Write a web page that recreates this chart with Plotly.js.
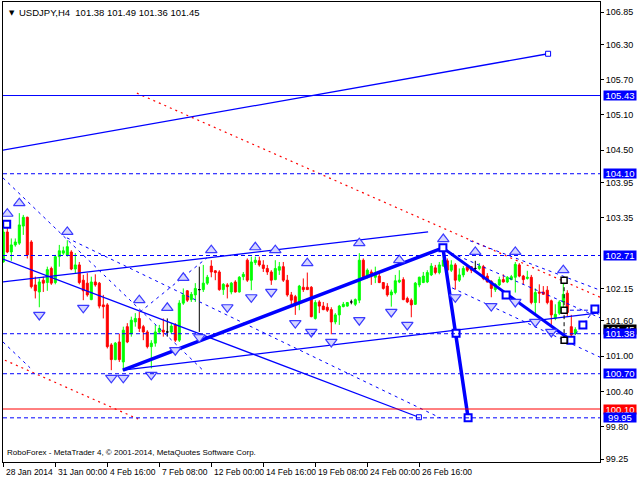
<!DOCTYPE html>
<html><head><meta charset="utf-8">
<script src="https://cdn.plot.ly/plotly-3.0.1.min.js"></script>
<style>html,body{margin:0;padding:0;background:#fff}#chart{width:640px;height:480px}</style>
</head><body><div id="chart"></div>
<script>
// ---- Data (USDJPY, H4), bar index 0..143 ----
const opens = [102.60,103.11,102.77,102.89,102.92,103.21,103.36,102.94,102.21,102.09,
102.29,102.25,102.49,102.25,102.69,102.75,102.72,102.77,102.48,102.55,
102.29,102.24,101.96,102.26,102.24,101.87,101.87,101.19,100.94,101.24,
100.90,101.50,101.38,101.58,101.64,101.50,101.41,101.16,101.22,101.41,
101.44,101.41,101.41,101.53,101.27,101.90,102.11,101.96,102.04,102.13,
102.13,102.24,102.53,102.45,102.43,102.13,102.21,102.09,102.26,102.09,
102.35,102.63,102.29,102.59,102.62,102.55,102.49,102.43,102.30,102.46,
102.52,102.29,102.04,102.01,101.90,102.17,102.17,102.17,101.64,101.92,
101.85,101.83,101.79,101.58,101.70,101.84,101.85,101.92,101.88,101.95,
102.63,102.35,102.43,102.34,102.36,102.25,102.19,102.04,102.08,102.26,
102.30,101.98,101.95,101.88,102.21,102.25,102.26,102.38,102.50,102.42,
102.53,102.62,102.46,102.55,102.29,102.38,102.52,102.52,102.49,102.49,
102.52,102.36,102.27,102.13,102.21,102.30,102.26,102.30,102.34,102.55,
102.36,102.32,102.34,101.91,102.09,102.09,102.12,101.94,101.64,101.73,
101.92,102.07,101.50,101.38];
const highs = [103.17,103.29,103.00,103.00,103.43,103.40,103.37,102.97,102.35,102.32,
102.35,102.52,102.52,102.72,102.89,102.86,102.97,102.80,102.75,102.60,
102.38,102.41,102.35,102.39,102.26,102.04,101.90,101.22,101.24,101.38,
101.50,101.56,101.67,101.73,101.75,101.53,101.44,101.27,101.53,101.53,
101.64,101.64,101.56,101.56,101.95,102.15,102.12,102.09,102.24,102.52,
102.55,102.38,102.63,102.46,102.46,102.24,102.24,102.26,102.29,102.36,
102.43,102.66,102.69,102.69,102.69,102.63,102.55,102.46,102.63,102.60,
102.60,102.38,102.09,102.04,102.21,102.32,102.42,102.19,101.95,101.95,
101.92,101.90,101.83,101.73,101.87,101.92,101.92,101.96,101.98,102.75,
102.66,102.49,102.47,102.52,102.41,102.26,102.24,102.13,102.38,102.46,
102.34,102.01,101.98,102.26,102.35,102.43,102.46,102.58,102.55,102.60,
102.83,102.66,102.63,102.58,102.49,102.53,102.55,102.53,102.62,102.58,
102.55,102.41,102.29,102.24,102.35,102.39,102.36,102.38,102.60,102.58,
102.38,102.45,102.38,102.15,102.22,102.19,102.19,101.96,101.88,101.95,
102.29,102.12,101.70,101.49];
const lows = [102.59,102.75,102.62,102.86,102.89,103.06,102.66,102.15,101.98,101.83,
102.09,102.11,102.21,102.22,102.52,102.72,102.69,102.46,102.41,102.22,
101.95,102.01,101.95,102.18,101.81,101.64,101.13,100.76,100.93,100.90,
100.75,101.22,101.33,101.50,101.41,101.27,101.13,100.79,101.16,101.38,
101.33,101.33,101.38,101.24,101.24,101.87,101.92,101.92,101.92,101.41,
102.09,102.21,102.34,102.29,102.11,102.04,101.98,102.05,102.08,102.08,
102.29,102.26,102.12,102.55,102.52,102.43,102.38,102.21,102.29,102.38,
102.26,102.01,101.84,101.70,101.78,102.09,102.13,101.66,101.62,101.73,
101.78,101.75,101.37,101.54,101.53,101.83,101.84,101.88,101.85,101.90,
102.32,102.32,102.21,102.24,102.24,102.13,102.01,101.84,102.05,102.24,
101.95,101.90,101.66,101.87,102.17,102.24,102.24,102.36,102.39,102.39,
102.52,102.43,102.43,102.13,102.26,102.34,102.43,102.41,102.43,102.46,
102.29,102.25,102.00,102.09,102.19,102.25,102.24,102.29,102.08,102.34,
102.21,102.30,101.88,101.70,101.90,102.04,101.88,101.53,101.61,101.70,
101.78,101.68,101.32,101.36];
const closes = [103.11,102.77,102.89,102.94,103.23,103.36,102.72,102.18,102.11,102.26,
102.24,102.47,102.24,102.69,102.79,102.79,102.86,102.48,102.55,102.25,
102.11,102.04,102.26,102.21,101.85,101.84,101.16,100.94,101.22,100.94,
101.44,101.24,101.61,101.64,101.47,101.41,101.16,101.22,101.41,101.47,
101.41,101.41,101.51,101.27,101.90,102.04,101.95,102.05,102.15,102.13,
102.24,102.34,102.43,102.42,102.13,102.22,102.18,102.24,102.09,102.34,
102.39,102.29,102.60,102.63,102.55,102.49,102.43,102.29,102.49,102.52,
102.29,102.04,101.95,101.87,102.19,102.13,102.13,101.67,101.91,101.85,
101.79,101.78,101.58,101.70,101.85,101.88,101.91,101.92,101.96,102.63,
102.35,102.46,102.36,102.39,102.25,102.15,102.04,102.09,102.28,102.29,
101.96,101.92,101.87,102.24,102.34,102.36,102.42,102.53,102.42,102.55,
102.63,102.46,102.55,102.29,102.38,102.49,102.46,102.46,102.49,102.53,
102.32,102.26,102.15,102.22,102.30,102.26,102.34,102.35,102.56,102.36,
102.30,102.34,101.91,102.08,102.07,102.05,101.91,101.70,101.71,101.92,
102.05,101.74,101.36,101.45];

const tickIdx = [0,13,26,39,52,65,78,91,104];
const tickLabels = ["28 Jan 2014","31 Jan 00:00","4 Feb 16:00","7 Feb 08:00","12 Feb 00:00","14 Feb 16:00","19 Feb 08:00","24 Feb 00:00","26 Feb 16:00"];
const yTicks = [106.85,106.30,105.70,105.10,104.50,103.95,103.35,102.15,101.60,101.00,100.40,99.80,99.25];

const levelPrices = [105.43,104.10,102.71,101.38,100.70,100.10,99.95];
const levelKinds  = ["solid","dash","dash","dash","dash","solid","dash"];
const levelIsRed  = [false,false,false,false,false,true,false];

// fractal arrows
const upIdx   = [1,4,16,34,41,45,52,63,68,76,89,99,110,118,128,140];
const upPrice = [103.42,103.60,103.11,101.95,101.82,102.33,102.80,102.85,102.80,102.58,102.92,102.63,102.99,102.77,102.77,102.46];
const dnIdx   = [9,20,27,30,37,43,49,56,62,67,73,77,82,89,97,101,113,122,128,133,137];
const dnPrice = [101.70,101.82,100.63,100.63,100.68,101.10,101.32,101.83,102.00,102.09,101.56,101.41,101.24,101.61,101.75,101.53,102.00,101.85,101.92,101.58,101.41];

// analyst lines (bar index, price)
const riseX = [-0.08,136.2], riseY = [104.50,106.14];
const redUpX = [33.4,149.2], redUpY = [105.47,102.00];
const redLoX = [0.4,33.7], redLoY = [100.93,99.93];
const pairX = [116.7,149.2], pairY = [102.96,102.12];
const chanTopX = [-0.08,106.2], chanTopY = [102.26,103.11];
const chanDownX = [-0.08,103.9], chanDownY = [102.65,99.96];
const chanLowX = [29.9,148.4], chanLowY = [100.76,101.73];
const waveX = [29.9,109.9,116.2], waveY = [100.76,102.84,99.95];
const wave2X = [109.9,141.9], wave2Y = [102.84,101.27];
const dash1X = [-0.08,49.9], dash1Y = [104.03,100.76];
const dash2X = [15.9,109.2], dash2Y = [103.01,99.95];
const dash3X = [-0.08,6.7], dash3Y = [101.24,100.80];
const dash4X = [34.2,50.9], dash4Y = [101.75,102.67];
const dash5X = [110.4,149.2], dash5Y = [102.80,101.65];
const dash6X = [112.2,149.2], dash6Y = [102.16,100.98];
const projX = [141.9,144.9,147.9,149.2], projY = [101.27,101.53,101.80,101.65];
const flatX = [139.9,147.9], flatY = [101.78,101.78];
const vertX = [140.2,140.2,140.2], vertY = [102.29,101.78,101.27];
const bigSqX = [0.85,109.9,116.2,113.2,125.7,141.9,144.9,147.9], bigSqY = [103.24,102.84,99.95,101.39,102.04,101.27,101.53,101.80];
const smallSqX = [136.2,103.9], smallSqY = [106.14,99.96];

// ---- Build ----
const FONT = "Liberation Sans, Arial, sans-serif";
const BLUE = "#0000ff", RED = "#ff0000";
const idx = opens.map((_, i) => i);
const isDoji = idx.map(i => opens[i] === closes[i]);
const pick = (arr, want) => idx.filter(i => isDoji[i] === want).map(i => arr[i]);

const traces = [];
traces.push({type:"candlestick", x:pick(idx,false), open:pick(opens,false), high:pick(highs,false), low:pick(lows,false), close:pick(closes,false),
  increasing:{line:{color:"#00ff00",width:1}, fillcolor:"#00ff00"},
  decreasing:{line:{color:RED,width:1}, fillcolor:RED}, whiskerwidth:0, hoverinfo:"skip"});
traces.push({type:"candlestick", x:pick(idx,true), open:pick(opens,true), high:pick(highs,true), low:pick(lows,true), close:pick(closes,true),
  increasing:{line:{color:"#000",width:1}, fillcolor:"#000"},
  decreasing:{line:{color:"#000",width:1}, fillcolor:"#000"}, whiskerwidth:0, hoverinfo:"skip"});

function ln(x, y, color, width, dash) {
  traces.push({type:"scatter", mode:"lines", x:x, y:y, line:{color:color, width:width, dash:dash||"solid"}, hoverinfo:"skip"});
}
const DASH = "4px,3px", DOT = "2px,4px", FINE = "3px,4px";
ln(dash1X, dash1Y, BLUE, 1, FINE);
ln(dash2X, dash2Y, BLUE, 1, FINE);
ln(dash3X, dash3Y, BLUE, 1, FINE);
ln(dash4X, dash4Y, BLUE, 1, FINE);
ln(dash5X, dash5Y, BLUE, 1, FINE);
ln(dash6X, dash6Y, BLUE, 1, FINE);
ln(redUpX, redUpY, RED, 1.2, DOT);
ln(redLoX, redLoY, RED, 1.2, DOT);
ln(pairX, pairY, BLUE, 1, FINE);
ln(riseX, riseY, BLUE, 1.3);
ln(chanTopX, chanTopY, BLUE, 1.3);
ln(chanDownX, chanDownY, BLUE, 1.3);
ln(chanLowX, chanLowY, BLUE, 1.3);
ln(waveX, waveY, BLUE, 3.5);
ln(wave2X, wave2Y, BLUE, 3);
ln(projX, projY, BLUE, 1, DASH);
ln(flatX, flatY, BLUE, 1, DASH);
ln(vertX, vertY, "#000", 1, DASH);

traces.push({type:"scatter", mode:"markers", x:upIdx, y:upPrice, hoverinfo:"skip",
  marker:{symbol:"triangle-up", size:10, color:"#d6d6ff", line:{color:"#3a3aff", width:1.2}}});
traces.push({type:"scatter", mode:"markers", x:dnIdx, y:dnPrice, hoverinfo:"skip",
  marker:{symbol:"triangle-down", size:10, color:"#d6d6ff", line:{color:"#3a3aff", width:1.2}}});
traces.push({type:"scatter", mode:"markers", x:bigSqX, y:bigSqY, hoverinfo:"skip",
  marker:{symbol:"square", size:7, color:"#fff", line:{color:BLUE, width:2}}});
traces.push({type:"scatter", mode:"markers", x:smallSqX, y:smallSqY, hoverinfo:"skip",
  marker:{symbol:"square", size:5, color:"#fff", line:{color:BLUE, width:1}}});
traces.push({type:"scatter", mode:"markers", x:vertX, y:vertY, hoverinfo:"skip",
  marker:{symbol:"square", size:6, color:"#fff", line:{color:"#000", width:1.5}}});

const shapes = levelPrices.map((p, k) => ({type:"line", xref:"paper", x0:0, x1:1, yref:"y", y0:p, y1:p, layer:"above",
  line:{color: levelIsRed[k] ? RED : BLUE, width:1, dash: levelKinds[k] === "dash" ? DASH : "solid"}}));

const annotations = [];
const last = closes.length - 1;
function priceBox(p, bg) {
  annotations.push({xref:"paper", x:1, xanchor:"left", xshift:3, yref:"y", y:p, yanchor:"middle",
    text:p.toFixed(2), showarrow:false, bgcolor:bg, width:32, height:9, borderpad:0,
    font:{family:FONT, size:9.5, color:"#fff"}});
}
priceBox(closes[last], "#000");
levelPrices.forEach((p, k) => priceBox(p, levelIsRed[k] ? RED : BLUE));

tickIdx.forEach((t, k) => annotations.push({xref:"x", x:t, xanchor:"left", xshift:1, yref:"paper", y:0, yanchor:"top", yshift:-3,
  text:tickLabels[k], showarrow:false, font:{family:FONT, size:8.5, color:"#000"}}));

annotations.push({xref:"paper", x:0, xanchor:"left", xshift:4, yref:"paper", y:1, yanchor:"top", yshift:-5,
  text:"▼", showarrow:false, font:{family:"DejaVu Sans", size:7, color:"#000"}});
annotations.push({xref:"paper", x:0, xanchor:"left", xshift:14, yref:"paper", y:1, yanchor:"top", yshift:-3,
  text:"USDJPY,H4  " + [opens[last], highs[last], lows[last], closes[last]].map(v => v.toFixed(2)).join(" "),
  showarrow:false, font:{family:FONT, size:9.5, color:"#000"}});
annotations.push({xref:"paper", x:0, xanchor:"left", xshift:2, yref:"paper", y:0, yanchor:"bottom", yshift:3,
  text:"RoboForex - MetaTrader 4, © 2001-2014, MetaQuotes Software Corp.", showarrow:false,
  font:{family:FONT, size:8, color:"#000"}});

const layout = {
  width:640, height:480,
  margin:{l:3, r:40, t:2, b:18, pad:0},
  paper_bgcolor:"#fff", plot_bgcolor:"#fff",
  showlegend:false, boxgap:0.5, boxgroupgap:0,
  xaxis:{range:[-0.075,149.175], showgrid:false, zeroline:false, showline:true, mirror:true, linecolor:"#000", linewidth:1,
    tickvals:tickIdx, ticks:"outside", ticklen:4, tickcolor:"#000", showticklabels:false, rangeslider:{visible:false}},
  yaxis:{range:[99.199,107.02], side:"right", showgrid:false, zeroline:false, showline:true, mirror:true, linecolor:"#000", linewidth:1,
    tickvals:yTicks, ticktext:yTicks.map(v => v.toFixed(2)), ticks:"outside", ticklen:3, tickcolor:"#000",
    tickfont:{family:FONT, size:9, color:"#000"}},
  shapes:shapes, annotations:annotations
};
Plotly.newPlot("chart", traces, layout, {staticPlot:true, displayModeBar:false});
</script></body></html>
